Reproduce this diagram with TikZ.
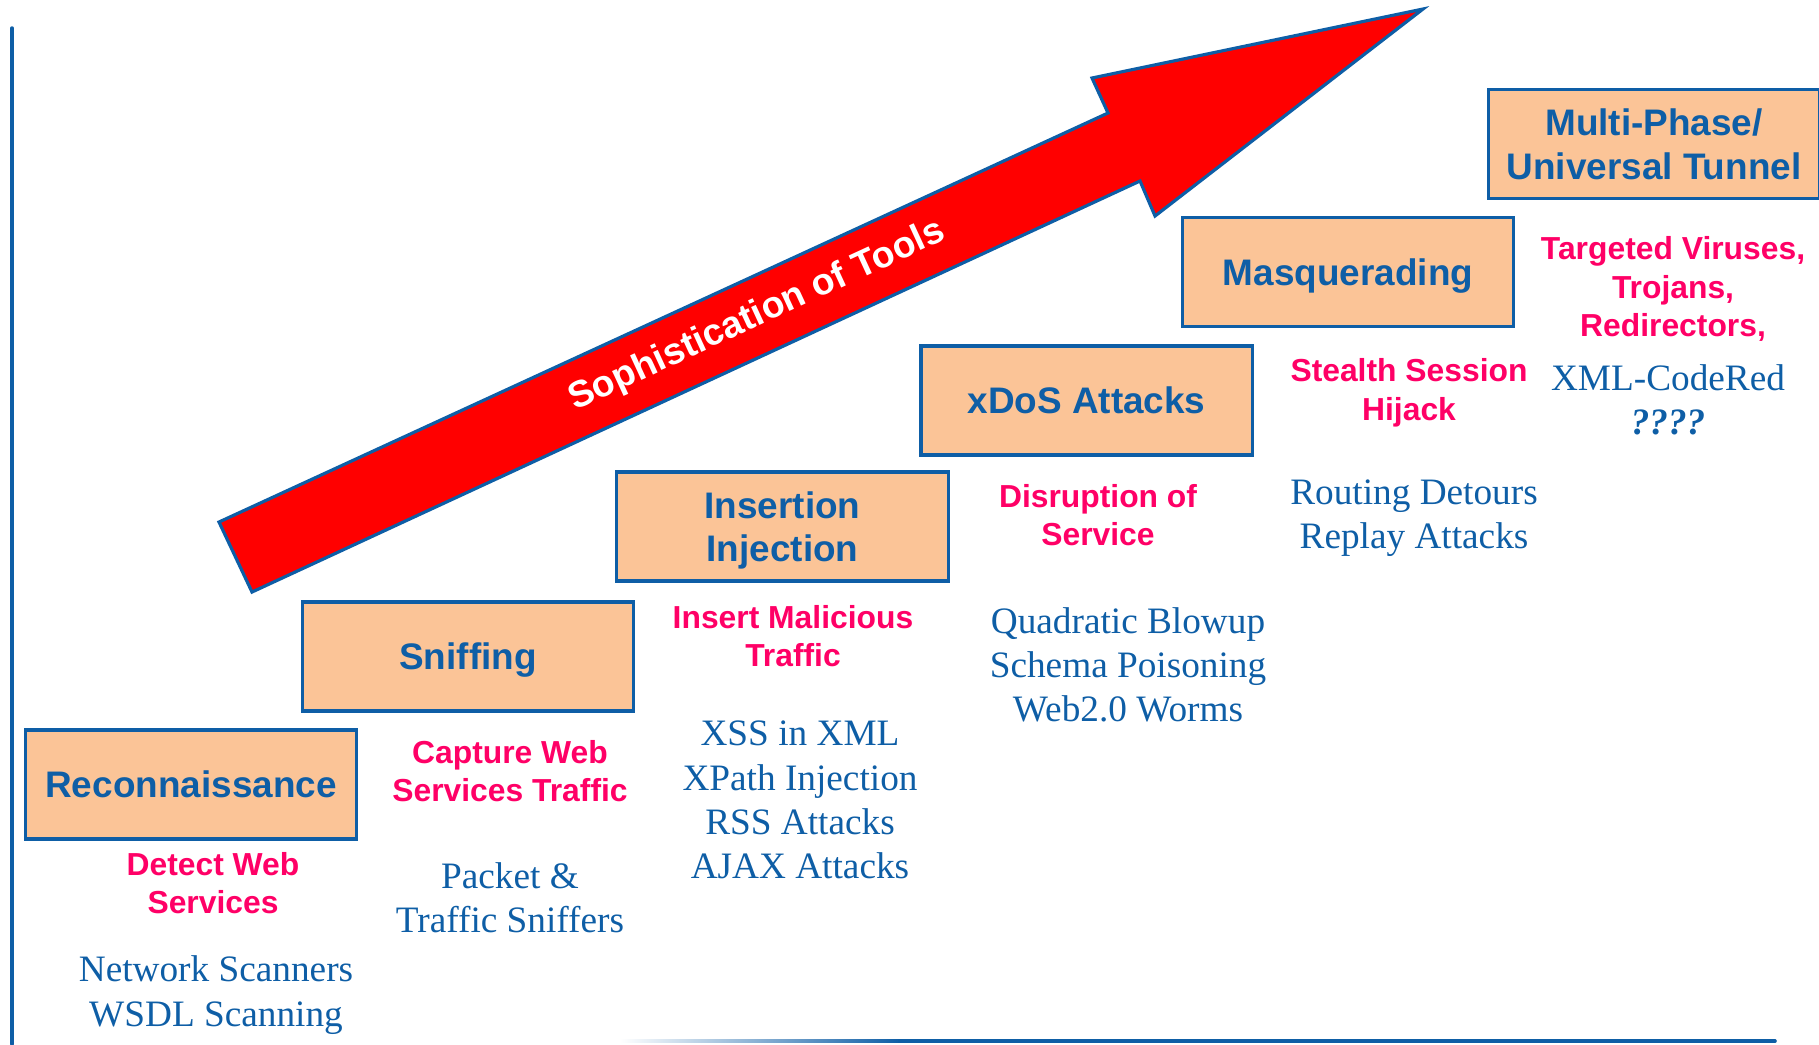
\documentclass[tikz,border=0pt]{standalone}
\usepackage{fontspec}
\setmainfont{Liberation Serif}
\setsansfont{Liberation Sans}
\usepackage{tikz}
\definecolor{stageblue}{RGB}{14,94,166}
\definecolor{stagefill}{RGB}{251,196,151}
\definecolor{hotpink}{RGB}{255,0,102}
\begin{document}
\begin{tikzpicture}[line cap=round,x=0.01cm,y=-0.01cm,
    stage/.style={draw=stageblue,line width=0.9pt,fill=stagefill,minimum width=3.31cm,minimum height=1.09cm,inner sep=0pt,text depth=0pt,align=center,text=stageblue,font=\sffamily\bfseries\fontsize{10.5}{12.3}\selectfont},
    goal/.style={align=center,text=hotpink,inner sep=0pt,font=\sffamily\bfseries\fontsize{9.05}{11}\selectfont},
    tool/.style={align=center,text=stageblue,inner sep=0pt,font=\fontsize{10.6}{12.6}\selectfont}]
    \useasboundingbox (0,0) rectangle (1819,1044);
    % axes
    \draw[stageblue,line width=1pt] (12,28) -- (12,1044);
    \fill[left color=white,right color=stageblue] (620,1039.5) rectangle (900,1042.5);
    \draw[stageblue,line width=1pt] (900,1041) -- (1775,1041);
    % big arrow
    \draw[stageblue,line width=0.9pt,line join=miter,fill=red] (219,522) -- (1108,113) -- (1092,78) -- (1423,9)
      -- (1155,216) -- (1140,181) -- (252,592) -- cycle;
    \node[rotate=24.8,text=white,font=\sffamily\bfseries\fontsize{10.6}{12}\selectfont] (soph) at (757,316) {Sophistication of Tools};
    % stages
    \node[stage] (recon) at (191,784.5) {Reconnaissance};
    \node[stage] (sniff) at (468,656.5) {Sniffing};
    \node[stage] (inject) at (782.5,526.5) {Insertion\\Injection};
    \node[stage] (xdos) at (1086.5,400.5) {xDoS Attacks};
    \node[stage] (masq) at (1348,272) {Masquerading};
    \node[stage] (multi) at (1654,144) {Multi-Phase/\\Universal Tunnel};
    % goals
    \node[goal] (detect) at (213,883) {Detect Web\\Services};
    \node[goal] (capture) at (510,771) {Capture Web\\Services Traffic};
    \node[goal] (insert) at (793,636) {Insert Malicious\\Traffic};
    \node[goal] (disrupt) at (1098,515) {Disruption of\\Service};
    \node[goal] (stealth) at (1409,393) {Stealth Session\\Hijack};
    \node[goal] (target) at (1673,289) {Targeted Viruses,\\Trojans,\\Redirectors,};
    % tools
    \node[tool] (scan) at (216,995) {Network Scanners\\WSDL Scanning};
    \node[tool] (packet) at (510,898) {Packet \&\\Traffic Sniffers};
    \node[tool] (xss) at (800,800) {XSS in XML\\XPath Injection\\RSS Attacks\\AJAX Attacks};
    \node[tool] (quad) at (1128,665) {Quadratic Blowup\\Schema Poisoning\\Web2.0 Worms};
    \node[tool] (route) at (1414,518) {Routing Detours\\Replay Attacks};
    \node[tool] (codered) at (1668,400) {XML-CodeRed\\\textbf{\textit{????}}};
  \end{tikzpicture}
\end{document}
